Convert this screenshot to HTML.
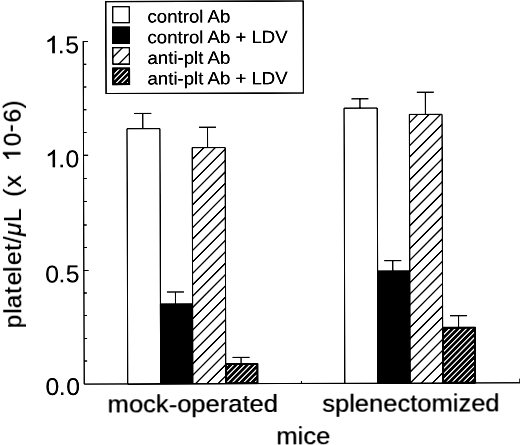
<!DOCTYPE html>
<html><head><meta charset="utf-8"><title>chart</title>
<style>html,body{margin:0;padding:0;background:#fff;}body{width:520px;height:445px;overflow:hidden;font-family:"Liberation Sans",sans-serif;}</style></head>
<body>
<svg width="520" height="445" viewBox="0 0 520 445" style="display:block">
<defs><clipPath id="c1"><rect x="192.40" y="147.45" width="32.93" height="236.13"/></clipPath><clipPath id="c2"><rect x="226.63" y="364.85" width="29.47" height="17.43"/></clipPath><clipPath id="c3"><rect x="409.68" y="114.88" width="32.65" height="268.70"/></clipPath><clipPath id="c4"><rect x="443.63" y="329.18" width="30.15" height="53.10"/></clipPath><clipPath id="c5"><rect x="113.35" y="47.20" width="16.55" height="16.50"/></clipPath><clipPath id="c6"><rect x="114.65" y="68.90" width="13.95" height="13.90"/></clipPath><filter id="b" filterUnits="userSpaceOnUse" x="-10" y="-10" width="540" height="465" color-interpolation-filters="sRGB"><feGaussianBlur stdDeviation="0.45"/><feComponentTransfer><feFuncR type="linear" slope="1.5" intercept="-0.5"/><feFuncG type="linear" slope="1.5" intercept="-0.5"/><feFuncB type="linear" slope="1.5" intercept="-0.5"/><feFuncA type="linear" slope="1.5" intercept="0"/></feComponentTransfer></filter><filter id="b2" filterUnits="userSpaceOnUse" x="-10" y="-10" width="540" height="465" color-interpolation-filters="sRGB"><feGaussianBlur stdDeviation="0.45"/><feComponentTransfer><feFuncR type="linear" slope="1.25" intercept="-0.25"/><feFuncG type="linear" slope="1.25" intercept="-0.25"/><feFuncB type="linear" slope="1.25" intercept="-0.25"/><feFuncA type="linear" slope="1.25" intercept="0"/></feComponentTransfer></filter></defs>
<rect width="520" height="445" fill="#fff"/>
<g filter="url(#b)"><g transform="rotate(-0.1670 260 222)">
<path d="M83.73 40.44 V383.58 H520.5" fill="none" stroke="#0c0c0c" stroke-width="0.95"/>
<line x1="83.73" y1="41.09" x2="88.33" y2="41.09" stroke="#0c0c0c" stroke-width="1.0"/>
<line x1="83.73" y1="63.79" x2="86.73" y2="63.79" stroke="#0c0c0c" stroke-width="1.0"/>
<line x1="83.73" y1="86.59" x2="86.73" y2="86.59" stroke="#0c0c0c" stroke-width="1.0"/>
<line x1="83.73" y1="109.24" x2="86.73" y2="109.24" stroke="#0c0c0c" stroke-width="1.0"/>
<line x1="83.73" y1="131.99" x2="86.73" y2="131.99" stroke="#0c0c0c" stroke-width="1.0"/>
<line x1="83.73" y1="154.82" x2="88.33" y2="154.82" stroke="#0c0c0c" stroke-width="1.0"/>
<line x1="83.73" y1="178.09" x2="86.73" y2="178.09" stroke="#0c0c0c" stroke-width="1.0"/>
<line x1="83.73" y1="200.99" x2="86.73" y2="200.99" stroke="#0c0c0c" stroke-width="1.0"/>
<line x1="83.73" y1="224.49" x2="86.73" y2="224.49" stroke="#0c0c0c" stroke-width="1.0"/>
<line x1="83.73" y1="246.89" x2="86.73" y2="246.89" stroke="#0c0c0c" stroke-width="1.0"/>
<line x1="83.73" y1="269.89" x2="88.33" y2="269.89" stroke="#0c0c0c" stroke-width="1.0"/>
<line x1="83.73" y1="292.39" x2="86.73" y2="292.39" stroke="#0c0c0c" stroke-width="1.0"/>
<line x1="83.73" y1="315.09" x2="86.73" y2="315.09" stroke="#0c0c0c" stroke-width="1.0"/>
<line x1="83.73" y1="337.89" x2="86.73" y2="337.89" stroke="#0c0c0c" stroke-width="1.0"/>
<line x1="83.73" y1="360.59" x2="86.73" y2="360.59" stroke="#0c0c0c" stroke-width="1.0"/>
<line x1="301.0" y1="383.58" x2="301.0" y2="381.18" stroke="#0c0c0c" stroke-width="0.95"/>
<line x1="519.5" y1="383.58" x2="519.5" y2="379.38" stroke="#0c0c0c" stroke-width="0.95"/>
<rect x="127.28" y="128.36" width="32.90" height="255.22" fill="#fff" stroke="#0c0c0c" stroke-width="0.95"/>
<path d="M143.12 128.36 V113.11 M134.62 113.11 H151.62" fill="none" stroke="#0c0c0c" stroke-width="0.95"/>
<rect x="160.18" y="303.75" width="32.22" height="79.83" fill="#050505" stroke="#0c0c0c" stroke-width="0.95"/>
<path d="M175.25 303.75 V291.75 M166.75 291.75 H183.75" fill="none" stroke="#0c0c0c" stroke-width="0.95"/>
<rect x="192.40" y="147.45" width="32.93" height="236.13" fill="#fff"/>
<path clip-path="url(#c1)" d="M190.40 149.80L227.33 112.87M190.40 161.20L227.33 124.27M190.40 172.60L227.33 135.67M190.40 184.00L227.33 147.07M190.40 195.40L227.33 158.47M190.40 206.80L227.33 169.87M190.40 218.20L227.33 181.27M190.40 229.60L227.33 192.67M190.40 241.00L227.33 204.07M190.40 252.40L227.33 215.47M190.40 263.80L227.33 226.87M190.40 275.20L227.33 238.27M190.40 286.60L227.33 249.67M190.40 298.00L227.33 261.07M190.40 309.27L227.33 272.34M190.40 320.54L227.33 283.61M190.40 331.81L227.33 294.88M190.40 343.09L227.33 306.16M190.40 354.36L227.33 317.43M190.40 365.63L227.33 328.70M190.40 376.90L227.33 339.97M190.40 388.17L227.33 351.24M190.40 399.44L227.33 362.51M190.40 410.71L227.33 373.78" fill="none" stroke="#0c0c0c" stroke-width="1.1"/>
<rect x="192.40" y="147.45" width="32.93" height="236.13" fill="none" stroke="#0c0c0c" stroke-width="0.95"/>
<path d="M207.78 147.45 V127.05 M199.28 127.05 H216.28" fill="none" stroke="#0c0c0c" stroke-width="0.95"/>
<rect x="225.33" y="363.55" width="32.07" height="20.03" fill="#060606" stroke="#0c0c0c" stroke-width="0.95"/>
<path clip-path="url(#c2)" d="M224.63 356.27L258.10 322.80M224.63 361.87L258.10 328.40M224.63 367.47L258.10 334.00M224.63 373.07L258.10 339.60M224.63 378.67L258.10 345.20M224.63 384.27L258.10 350.80M224.63 389.87L258.10 356.40M224.63 395.47L258.10 362.00M224.63 401.07L258.10 367.60M224.63 406.67L258.10 373.20M224.63 412.27L258.10 378.80M224.63 417.87L258.10 384.40M224.63 423.47L258.10 390.00" fill="none" stroke="#fff" stroke-width="1.5"/>
<path d="M240.66 363.55 V357.35 M232.16 357.35 H249.16" fill="none" stroke="#0c0c0c" stroke-width="0.95"/>
<rect x="344.38" y="108.39" width="33.10" height="275.19" fill="#fff" stroke="#0c0c0c" stroke-width="0.95"/>
<path d="M360.31 108.39 V99.14 M351.81 99.14 H368.81" fill="none" stroke="#0c0c0c" stroke-width="0.95"/>
<rect x="377.48" y="271.39" width="32.20" height="112.19" fill="#050505" stroke="#0c0c0c" stroke-width="0.95"/>
<path d="M392.69 271.39 V261.04 M384.19 261.04 H401.19" fill="none" stroke="#0c0c0c" stroke-width="0.95"/>
<rect x="409.68" y="114.88" width="32.65" height="268.70" fill="#fff"/>
<path clip-path="url(#c3)" d="M407.68 125.22L444.33 88.57M407.68 136.68L444.33 100.03M407.68 148.14L444.33 111.49M407.68 159.59L444.33 122.94M407.68 171.05L444.33 134.40M407.68 182.51L444.33 145.86M407.68 193.97L444.33 157.32M407.68 205.42L444.33 168.77M407.68 216.88L444.33 180.23M407.68 228.34L444.33 191.69M407.68 239.80L444.33 203.15M407.68 251.25L444.33 214.60M407.68 262.71L444.33 226.06M407.68 274.17L444.33 237.52M407.68 285.31L444.33 248.66M407.68 296.45L444.33 259.80M407.68 307.59L444.33 270.94M407.68 318.73L444.33 282.08M407.68 329.87L444.33 293.22M407.68 341.01L444.33 304.36M407.68 352.15L444.33 315.50M407.68 363.29L444.33 326.64M407.68 374.43L444.33 337.78M407.68 385.57L444.33 348.92M407.68 396.71L444.33 360.06M407.68 407.85L444.33 371.20M407.68 418.99L444.33 382.34" fill="none" stroke="#0c0c0c" stroke-width="1.1"/>
<rect x="409.68" y="114.88" width="32.65" height="268.70" fill="none" stroke="#0c0c0c" stroke-width="0.95"/>
<path d="M425.73 114.88 V92.68 M417.23 92.68 H434.23" fill="none" stroke="#0c0c0c" stroke-width="0.95"/>
<rect x="442.33" y="327.88" width="32.75" height="55.70" fill="#060606" stroke="#0c0c0c" stroke-width="0.95"/>
<path clip-path="url(#c4)" d="M441.63 320.17L475.78 286.02M441.63 325.77L475.78 291.62M441.63 331.37L475.78 297.22M441.63 336.97L475.78 302.82M441.63 342.57L475.78 308.42M441.63 348.17L475.78 314.02M441.63 353.77L475.78 319.62M441.63 359.37L475.78 325.22M441.63 364.97L475.78 330.82M441.63 370.57L475.78 336.42M441.63 376.17L475.78 342.02M441.63 381.77L475.78 347.62M441.63 387.37L475.78 353.22M441.63 392.97L475.78 358.82M441.63 398.57L475.78 364.42M441.63 404.17L475.78 370.02M441.63 409.77L475.78 375.62M441.63 415.37L475.78 381.22M441.63 420.97L475.78 386.82" fill="none" stroke="#fff" stroke-width="1.5"/>
<path d="M458.28 327.88 V316.33 M449.78 316.33 H466.78" fill="none" stroke="#0c0c0c" stroke-width="0.95"/>
<rect x="106.45" y="1.15" width="197.35" height="91.95" fill="#fff" stroke="#0c0c0c" stroke-width="1.15"/>
<rect x="113.35" y="6.35" width="16.55" height="15.95" fill="#fff" stroke="#0c0c0c" stroke-width="1.1"/>
<rect x="113.35" y="26.60" width="16.55" height="16.50" fill="#050505" stroke="#0c0c0c" stroke-width="1.15"/>
<rect x="113.35" y="47.20" width="16.55" height="16.50" fill="#fff"/>
<path clip-path="url(#c5)" d="M111.35 33.45L131.90 12.90M111.35 46.15L131.90 25.60M111.35 58.85L131.90 38.30M111.35 71.55L131.90 51.00M111.35 84.25L131.90 63.70M111.35 96.95L131.90 76.40" fill="none" stroke="#0c0c0c" stroke-width="1.1"/>
<rect x="113.35" y="47.20" width="16.55" height="16.50" fill="none" stroke="#0c0c0c" stroke-width="1.1"/>
<rect x="113.35" y="67.60" width="16.55" height="16.50" fill="#060606" stroke="#0c0c0c" stroke-width="1.2"/>
<path clip-path="url(#c6)" d="M112.65 64.75L130.60 46.80M112.65 70.25L130.60 52.30M112.65 75.75L130.60 57.80M112.65 81.25L130.60 63.30M112.65 86.75L130.60 68.80M112.65 92.25L130.60 74.30M112.65 97.75L130.60 79.80M112.65 103.25L130.60 85.30M112.65 108.75L130.60 90.80" fill="none" stroke="#fff" stroke-width="1.5"/>
<text transform="translate(148.08,22.27) scale(1.0525,1)" font-family="Liberation Sans, sans-serif" font-size="17.7" fill="#060606">control Ab</text>
<text transform="translate(148.02,42.97) scale(1.0525,1)" font-family="Liberation Sans, sans-serif" font-size="17.7" fill="#060606">control Ab + LDV</text>
<text transform="translate(147.96,63.57) scale(1.0525,1)" font-family="Liberation Sans, sans-serif" font-size="17.7" fill="#060606">anti-plt Ab</text>
<text transform="translate(147.90,84.17) scale(1.0525,1)" font-family="Liberation Sans, sans-serif" font-size="17.7" fill="#060606">anti-plt Ab + LDV</text>
</g></g>
<g filter="url(#b2)"><g transform="rotate(-0.1670 260 222)">
<path transform="translate(45.02,52.73) scale(0.01341,-0.01187)" d="M763 0H583V1147Q518 1085 412.5 1023Q307 961 223 930V1104Q374 1175 487 1276Q600 1377 647 1472H763Z" fill="#060606"/>
<text transform="translate(58.34,52.73) scale(1.02,1)" font-family="Liberation Sans, sans-serif" font-size="24.3" fill="#060606">.</text>
<text transform="translate(65.63,52.73) scale(1.02,1)" font-family="Liberation Sans, sans-serif" font-size="24.3" fill="#060606">5</text>
<path transform="translate(45.02,166.68) scale(0.01341,-0.01187)" d="M763 0H583V1147Q518 1085 412.5 1023Q307 961 223 930V1104Q374 1175 487 1276Q600 1377 647 1472H763Z" fill="#060606"/>
<text transform="translate(58.34,166.68) scale(1.02,1)" font-family="Liberation Sans, sans-serif" font-size="24.3" fill="#060606">.</text>
<text transform="translate(65.63,166.68) scale(1.02,1)" font-family="Liberation Sans, sans-serif" font-size="24.3" fill="#060606">0</text>
<text transform="translate(45.03,281.78) scale(1.02,1)" font-family="Liberation Sans, sans-serif" font-size="24.3" fill="#060606">0</text>
<text transform="translate(58.34,281.78) scale(1.02,1)" font-family="Liberation Sans, sans-serif" font-size="24.3" fill="#060606">.</text>
<text transform="translate(65.63,281.78) scale(1.02,1)" font-family="Liberation Sans, sans-serif" font-size="24.3" fill="#060606">5</text>
<text transform="translate(45.03,394.43) scale(1.02,1)" font-family="Liberation Sans, sans-serif" font-size="24.3" fill="#060606">0</text>
<text transform="translate(58.34,394.43) scale(1.02,1)" font-family="Liberation Sans, sans-serif" font-size="24.3" fill="#060606">.</text>
<text transform="translate(65.63,394.43) scale(1.02,1)" font-family="Liberation Sans, sans-serif" font-size="24.3" fill="#060606">0</text>
<text transform="translate(107.10,411.70) scale(1.056,1)" font-family="Liberation Sans, sans-serif" font-size="24.2" fill="#060606">mock-operated</text>
<text transform="translate(321.75,411.70) scale(1.0546,1)" font-family="Liberation Sans, sans-serif" font-size="24.2" fill="#060606">splenectomized</text>
<text transform="translate(275.75,444.40) scale(1.054,1)" font-family="Liberation Sans, sans-serif" font-size="24.2" fill="#060606">mice</text>
<text transform="translate(20.62,0) rotate(-90)" font-family="Liberation Sans, sans-serif" font-size="24.4" fill="#060606"><tspan x="-327.40 -313.05 -307.55 -292.95 -284.40 -271.15 -264.15 -249.95 -242.50">platelet/</tspan><tspan x="-235.20" font-style="italic">μ</tspan><tspan x="-221.20 -196.05 -186.80">L(x</tspan><tspan x="-145.55">0</tspan><tspan x="-131.60" dy="-2.2">-</tspan><tspan x="-121.80 -107.70" dy="2.2">6)</tspan></text>
<path transform="translate(20.62,160.60) rotate(-90) scale(0.01191,-0.01191)" d="M763 0H583V1147Q518 1085 412.5 1023Q307 961 223 930V1104Q374 1175 487 1276Q600 1377 647 1472H763Z" fill="#060606"/>
</g></g>
</svg>
</body></html>
